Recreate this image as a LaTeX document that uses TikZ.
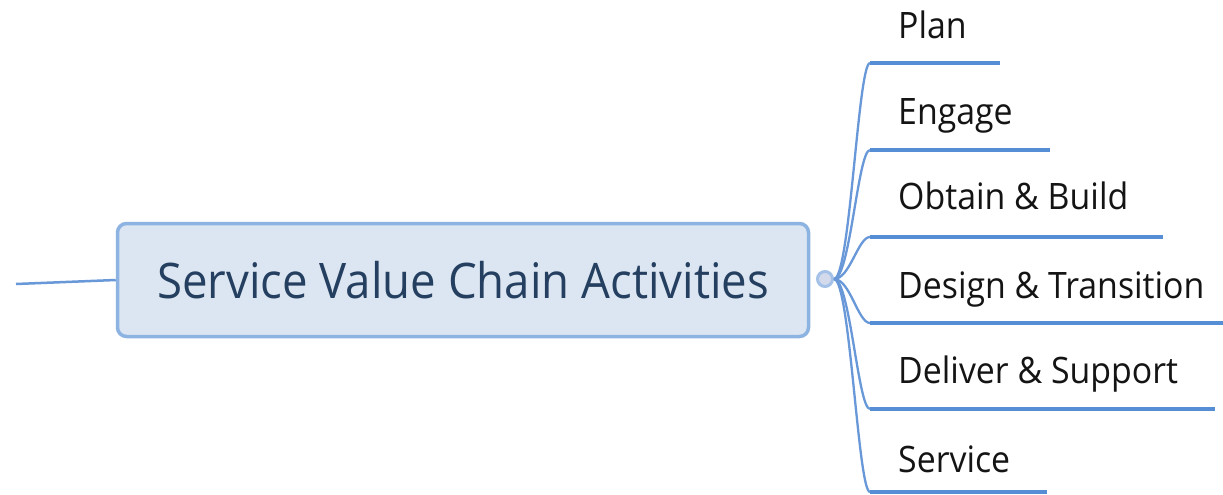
\documentclass[tikz,border=0pt]{standalone}
\usepackage{fontspec}
\setmainfont{Open Sans}
\usepackage{graphicx}
\definecolor{corefill}{HTML}{DCE6F2}
\definecolor{coreedge}{HTML}{8DB3E2}
\definecolor{coretext}{HTML}{243F60}
\definecolor{rulecol}{HTML}{558ED5}
\definecolor{twigcol}{HTML}{6898D8}
\definecolor{hubfill}{HTML}{D3DAEB}
\definecolor{hubedge}{HTML}{A4C2E8}
\definecolor{leaftext}{HTML}{141414}
\tikzset{
  corebox/.style={draw=coreedge, fill=corefill, line width=3.5pt, rounded corners=9pt,
    minimum width=691pt, minimum height=113pt, inner sep=0pt,
    text=coretext, font=\fontsize{49}{55}\selectfont},
  hubdot/.style={circle, draw=hubedge, fill=hubfill, line width=3pt,
    minimum size=15pt, inner sep=0pt},
  leaf/.style={anchor=base west, inner sep=0pt, text=leaftext,
    font=\fontsize{36.4}{40}\selectfont},
  twig/.style={draw=twigcol, line width=2.3pt},
  leafrule/.style={draw=rulecol, line width=4pt},
  stem/.style={draw=twigcol, line width=2.5pt}
}
\newcommand{\sq}[1]{\scalebox{0.93}[1]{#1}}
\begin{document}
\begin{tikzpicture}[x=1pt,y=-1pt]
\useasboundingbox (0,0) rectangle (1223,495);
\fill[white] (0,0) rectangle (1223,495);

% central topic and its lead-in
\node[corebox] (core) at (463,280) {\sq{Service Value Chain Activities}\hspace{13pt}};
\coordinate (tail) at (16,284);
\draw[stem] (tail) -- (core.west);
\node[hubdot] (hub) at (825,279) {};

% subtopics: label, underline start and end
\node[leaf] (plan)    at (898,39)  {\sq{Plan}};
\node[leaf] (engage)  at (898,124) {\sq{Engage}};
\node[leaf] (obtain)  at (898,209) {\sq{Obtain \& Build}};
\node[leaf] (design)  at (898,298) {\sq{Design \& Transition}};
\node[leaf] (deliver) at (898,383) {\sq{Deliver \& Support}};
\node[leaf] (service) at (898,472) {\sq{Service}};

\coordinate (p1) at (870,63);  \coordinate (q1) at (1000,63);
\coordinate (p2) at (870,150); \coordinate (q2) at (1050,150);
\coordinate (p3) at (870,237); \coordinate (q3) at (1163,237);
\coordinate (p4) at (870,323); \coordinate (q4) at (1223,323);
\coordinate (p5) at (870,409); \coordinate (q5) at (1215,409);
\coordinate (p6) at (870,492); \coordinate (q6) at (1047,492);

\foreach \i/\y in {1/63,2/150,3/237,4/323,5/409,6/492}{
  \draw[twig] (hub.east) .. controls (850,279) and (858,\y) .. (p\i);
  \draw[leafrule] (p\i) -- (q\i);
}
\end{tikzpicture}
\end{document}
